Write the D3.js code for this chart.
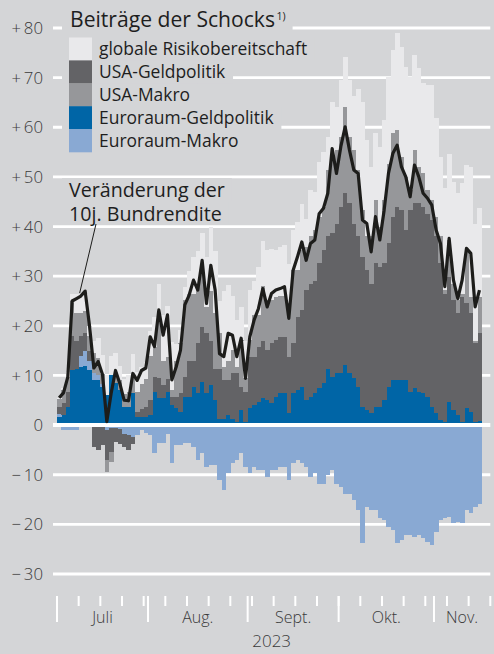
<!DOCTYPE html>
<html>
<head>
<meta charset="utf-8">
<script src="https://cdn.jsdelivr.net/npm/d3@7"></script>
<style>
  body { margin: 0; background: #d4d5d7; }
  svg { display: block; font-family: "Open Sans", sans-serif; }
</style>
</head>
<body>
<div id="app"></div>
<script>
// business days from 3 July 2023, one value per day
const firstDay = "2023-07-03"
const axisLastDay = "2023-11-20"
const monthLabels = ["Juli", "Aug.", "Sept.", "Okt.", "Nov."]
const yearLabel = "2023"
const yTicks = [80, 70, 60, 50, 40, 30, 20, 10, 0, -10, -20, -30]

const seriesKeys = ["euroGeld", "euroMakro", "usaGeld", "usaMakro", "global"]
const legendKeys = ["global", "usaGeld", "usaMakro", "euroGeld", "euroMakro"]
const legendLabels = ["globale Risikobereitschaft", "USA-Geldpolitik", "USA-Makro", "Euroraum-Geldpolitik", "Euroraum-Makro"]

const euroGeld = [1.7,2,3.7,11,11.4,11.8,12,11,9,9,7.7,6,10,8.5,7,3.7,3.7,6.4,1.7,1.7,1.7,2,
  6.7,5.4,5.4,6.7,4,3.4,2.7,5.7,5.7,7.7,6.4,8.7,6.4,8,5,1.3,1.3,2,1.3,0.7,3,0.7,3.4,4,4.7,5.5,5,4.4,
  5.7,6.4,6.4,2.4,6.4,7,7.7,5,5.7,6.4,7.4,8.4,11.4,9.7,10.4,10.4,12.1,10.4,9.4,7.7,3.7,3,2.4,3.7,3.7,
  5,7.7,9.1,9.1,9.1,9.1,6.7,7.4,6.7,6.4,5.7,3.7,2.4,1,0.7,4.7,3,2,0.7,3.4,2.7,0.7,0.9]
const euroMakro = [0.5,-1,-1,-1,-1,2.2,3,2,1.5,1,0.5,-1,-0.5,-0.5,-0.8,-1.7,-2,-2.4,-2,-1,-1.5,-2,
  -5.7,-3.7,-3.7,-1.7,-7.7,-4,-4,-3.7,-3.7,-4.4,-7,-5.7,-8.4,-8,-8,-11,-13,-9.7,-7.7,-7,-5.7,-8.4,-9.7,-8.4,-9,-9,-10.4,-9.1,
  -9.1,-8.4,-8.4,-11,-7.7,-7,-7.7,-8.4,-10.4,-9.7,-11.8,-11.8,-10,-9,-11.8,-12.4,-13.8,-13.8,-15.1,-17.1,-23.8,-16.5,-17.1,-17.1,-18.8,
  -19.1,-20.5,-21.2,-23.8,-23.2,-22.2,-22.2,-22.5,-22.2,-22.8,-23.5,-24.2,-21.5,-19.1,-18.8,-18.5,-19.8,-19.5,-19.8,-17.1,-17.8,-16.5,-15.8]
const usaGeld = [1.5,2.5,3,7,5.6,4,3.5,2,-4.5,-5,-4,-6,-5,-3,-3,-2.7,-3,-1.5,1,1.5,2,3,
  3,4,2.6,2.5,1.7,2.3,3.7,4,7.3,5.3,10.1,11.1,12.1,9,6.4,10.1,7.7,7,9.1,9.7,4.7,6,10.4,9.8,11.1,11.5,10.1,12.1,
  11.4,11.4,11.4,11.4,10.1,14.8,15.5,22.2,22.8,22.6,25.2,26.9,26.6,28.9,30.2,33.6,34.6,34.3,31.2,30.3,30.2,28.2,26.1,28.9,28.2,
  27.6,28.9,32.9,34.9,34.2,30.2,36.6,37.3,38,37.6,36.9,37.6,35.6,31.6,25.8,25.2,22.2,20.5,25.2,21.1,19.8,15.8,17.6]
const usaMakro = [1.5,2.5,3,7,5.5,4.5,4.5,3,4,3.5,2,-2.4,-2,2,2,2.5,3,3.5,4,5,5.5,9,
  6.1,13,5,4.6,1.3,7.3,10.1,15.5,13.5,13.5,11.4,11.4,5.3,10,11.1,7.1,2.8,4,4.7,1.4,9.4,2.7,3.3,8.4,6.4,11,10.1,8.7,
  8.8,8.2,8.2,10.7,14.7,9.4,12.1,8.7,9.5,10.3,9.4,8.7,13.4,15.4,14.8,14,17.4,13.4,14.8,13.4,9.4,6.8,9.5,12.7,8.1,
  12.7,16.1,16.8,15.4,10.7,10.7,4,10.7,7.3,6.7,4.7,4,4,5.4,0.7,7.4,3.3,2.7,0.5,10.8,3.4,0.5,7.4]
const global = [0.3,0.5,1,1.5,4,4,3.5,2,2.5,4,4,4,4,4,3,3,3.3,4.5,4,3.5,3.5,5,
  5.9,6.1,9.2,10.1,9.7,3.4,2.6,2.7,4.5,7.4,7.1,7.4,10,13,12.5,6.5,15.2,15.2,10.9,9.4,6.7,7.6,10.1,6.8,9.7,9,10.1,10.3,
  9.4,9.9,10.3,8,8.1,9.8,9.2,5.7,9.3,7.7,11,11,6.6,11,8.6,11.5,10.1,11.4,10.8,16.4,21.7,19.4,14,13.5,16,
  16.2,17.5,16.8,19.5,22.2,22.2,22.9,19.1,20,18.3,21.2,23.2,19.8,16,20.5,17.4,20.5,21.5,22.3,17.1,26.1,23.5,17.8]
const bundrendite = [5.5,6.5,9.7,25,25.5,26,27,20,11.5,12.8,10.2,0.7,6.4,11,8.4,5,4.9,10.4,9,11,11.5,17.8,
  15.8,23.2,18.1,22.2,9.1,11.7,15.1,24.2,26.2,29.2,27.2,33.2,24.5,32.2,27.2,14.4,13.8,18.5,18.1,13.8,17.5,9.4,17.8,21.2,23.5,27.5,23.8,26.5,
  27.2,27.5,27.9,21.5,31.2,33.9,36.9,33.2,36.6,37.3,42.6,43.7,46.7,55.7,50.7,56.1,60.1,55.4,51.4,50.7,41.3,40.6,34.9,42,37.3,
  43.3,50.7,54.7,56.4,52,50,46,52.4,50,46.7,45.7,44.3,39.3,36.6,27.9,37.6,29.2,25.5,29.2,35.6,34.6,23.8,27.2]

const colors = {
  global: "#e9e9eb",
  usaGeld: "#636366",
  usaMakro: "#96979a",
  euroGeld: "#0065a6",
  euroMakro: "#89a9d3"
}
const bg = "#d4d5d7"
const textColor = "#1e1e1e"
const axisColor = "#3a3a3a"

const W = 494, H = 654
const svg = d3.select("#app").append("svg")
  .attr("width", W)
  .attr("height", H)

svg.append("rect").attr("width", W).attr("height", H).attr("fill", bg)

const parse = d3.utcParse("%Y-%m-%d")
const axisDays = d3.utcDays(parse(firstDay), d3.utcDay.offset(parse(axisLastDay), 1))
  .filter(d => d.getUTCDay() % 6 !== 0)
const dataDays = axisDays.slice(0, bundrendite.length)

const rows = dataDays.map((d, i) => ({
  date: d,
  euroGeld: euroGeld[i], euroMakro: euroMakro[i], usaGeld: usaGeld[i],
  usaMakro: usaMakro[i], global: global[i], line: bundrendite[i]
}))

const step = 4.333
const x = d3.scaleBand()
  .domain(axisDays)
  .range([57, 57 + axisDays.length * step])
  .padding(0)
const y = d3.scaleLinear().domain([-30, 80]).range([574, 28])

const gridLeft = 53
const gridRight = x(axisDays[axisDays.length - 1])

// shrink or grow a text until it is the wanted width
const fitWidth = (sel, target) => {
  const size = +sel.attr("font-size")
  const w = sel.node().getComputedTextLength()
  sel.attr("font-size", (size * target / w).toFixed(2))
}

// gridlines
svg.append("g")
  .selectAll("line")
  .data(yTicks.filter(v => v !== 0))
  .join("line")
  .attr("x1", gridLeft).attr("x2", gridRight)
  .attr("y1", d => y(d)).attr("y2", d => y(d))
  .attr("stroke", "#fff")
  .attr("stroke-width", 2.8)

const knock = svg.append("g")

// y tick labels
const fmt = v => v > 0 ? "+\u2009" + v : v < 0 ? "\u2212\u2009" + Math.abs(v) : "0"
svg.append("g")
  .selectAll("text")
  .data(yTicks)
  .join("text")
  .attr("x", 43)
  .attr("y", d => y(d))
  .attr("dy", "0.36em")
  .attr("text-anchor", "end")
  .attr("font-size", 16.8)
  .attr("font-weight", 300)
  .attr("fill", axisColor)
  .text(fmt)

// stacked bars
const stack = d3.stack().keys(seriesKeys).offset(d3.stackOffsetDiverging)
const layers = stack(rows)

svg.append("g")
  .attr("shape-rendering", "crispEdges")
  .selectAll("g")
  .data(layers)
  .join("g")
  .attr("fill", d => colors[d.key])
  .selectAll("rect")
  .data(d => d)
  .join("rect")
  .attr("x", d => x(d.data.date))
  .attr("width", x.bandwidth() + 0.4)
  .attr("y", d => y(Math.max(d[0], d[1])))
  .attr("height", d => Math.abs(y(d[0]) - y(d[1])))

// zero line
svg.append("line")
  .attr("x1", gridLeft).attr("x2", gridRight)
  .attr("y1", y(0)).attr("y2", y(0))
  .attr("stroke", "#fff")
  .attr("stroke-width", 4)

// yield line
const line = d3.line()
  .x(d => x(d.date) + x.bandwidth() / 2)
  .y(d => y(d.line))
svg.append("path")
  .datum(rows)
  .attr("d", line)
  .attr("fill", "none")
  .attr("stroke", "#1d1d1b")
  .attr("stroke-width", 3.2)
  .attr("stroke-linejoin", "round")

// x axis ticks
const mondays = axisDays.filter(d => d.getUTCDay() === 1)
const monthStarts = d3.groups(axisDays, d => d.getUTCMonth()).map(g => g[1][0])
const tickTop = 596
svg.append("g")
  .selectAll("line")
  .data(mondays)
  .join("line")
  .attr("x1", d => x(d)).attr("x2", d => x(d))
  .attr("y1", tickTop).attr("y2", tickTop + 10)
  .attr("stroke", "#fff").attr("stroke-width", 2)
svg.append("g")
  .selectAll("line")
  .data(monthStarts)
  .join("line")
  .attr("x1", d => x(d)).attr("x2", d => x(d))
  .attr("y1", tickTop).attr("y2", tickTop + 26)
  .attr("stroke", "#fff").attr("stroke-width", 2)

const monthEdges = monthStarts.map(d => x(d)).concat([gridRight])
svg.append("g")
  .selectAll("text")
  .data(monthLabels)
  .join("text")
  .attr("x", (d, i) => (monthEdges[i] + monthEdges[i + 1]) / 2)
  .attr("y", 623)
  .attr("text-anchor", "middle")
  .attr("font-size", 16)
  .attr("font-weight", 300)
  .attr("fill", axisColor)
  .text(d => d)

svg.append("text")
  .attr("x", (gridLeft + gridRight) / 2)
  .attr("y", 647)
  .attr("text-anchor", "middle")
  .attr("font-size", 17)
  .attr("font-weight", 300)
  .attr("fill", axisColor)
  .text(yearLabel)

// legend
const labels = svg.append("g").attr("fill", textColor)
const title = labels.append("text")
  .attr("x", 70).attr("y", 27)
  .attr("font-size", 18.5)
  .text("Beiträge der Schocks")
fitWidth(title, 205)
title.append("tspan").attr("font-size", 10.5).attr("dy", -7.5).attr("dx", 1.5).text("1)")

const rowH = 22.9, legTop = 37.5
const leg = labels.selectAll("g.leg")
  .data(legendKeys)
  .join("g")
  .attr("class", "leg")
  .attr("transform", (d, i) => `translate(0,${legTop + i * rowH})`)
leg.append("rect")
  .attr("x", 69).attr("width", 23)
  .attr("height", rowH + 0.3)
  .attr("fill", d => colors[d])
const legText = leg.append("text")
  .attr("x", 99).attr("y", rowH / 2 + 6.2)
  .attr("font-size", 17.2)
  .text((d, i) => legendLabels[i])
fitWidth(legText.filter((d, i) => i === 0), 208)
legText.attr("font-size", legText.filter((d, i) => i === 0).attr("font-size"))

// annotation
const noteTop = labels.append("text")
  .attr("x", 69).attr("y", 197)
  .attr("font-size", 19)
  .text("Veränderung der")
fitWidth(noteTop, 156)
const noteBottom = labels.append("text")
  .attr("x", 69).attr("y", 220.5)
  .attr("font-size", noteTop.attr("font-size"))
  .text("10j. Bundrendite")

const peak = rows[5]
svg.append("line")
  .attr("x1", 96).attr("y1", 224)
  .attr("x2", x(peak.date) + 1).attr("y2", y(peak.line) - 3)
  .attr("stroke", "#1d1d1b")
  .attr("stroke-width", 1)

// hide gridlines behind the texts
const pad = 7
const tb = title.node().getBBox()
knock.append("rect")
  .attr("x", 62).attr("y", tb.y)
  .attr("width", tb.x + tb.width + pad - 62).attr("height", tb.height)
  .attr("fill", bg)
legText.each(function (d, i) {
  const b = this.getBBox()
  knock.append("rect")
    .attr("x", 62).attr("y", legTop + i * rowH)
    .attr("width", b.x + b.width + pad - 62).attr("height", rowH)
    .attr("fill", bg)
})
;[noteTop, noteBottom].forEach(t => {
  const b = t.node().getBBox()
  knock.append("rect")
    .attr("x", 62).attr("y", b.y + 2)
    .attr("width", b.x + b.width + pad - 62).attr("height", b.height - 4)
    .attr("fill", bg)
})
</script>
</body>
</html>
